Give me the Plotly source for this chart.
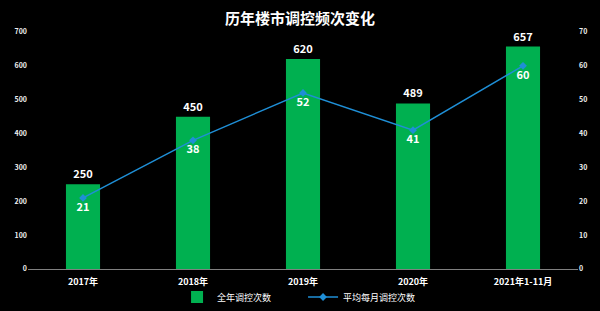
import plotly.graph_objects as go

categories = ["2017年", "2018年", "2019年", "2020年", "2021年1-11月"]
annual_counts = [250, 450, 620, 489, 657]
monthly_avg = [21, 38, 52, 41, 60]

FONT = "Noto Sans CJK SC"

fig = go.Figure()
fig.add_trace(go.Bar(
    x=categories, y=annual_counts, name="全年调控次数",
    marker=dict(color="#00B050", line=dict(width=0)),
    width=0.31,
    text=[f"<b>{v}</b>" for v in annual_counts], textposition="outside",
    textfont=dict(color="white", size=11, family=FONT),
    cliponaxis=False,
))
fig.add_trace(go.Scatter(
    x=categories, y=monthly_avg, name="平均每月调控次数", yaxis="y2",
    mode="lines+markers+text",
    line=dict(color="#1F8FD6", width=1.5),
    marker=dict(color="#1F8FD6", size=6, symbol="diamond"),
    text=[f"<b>{v}</b>" for v in monthly_avg], textposition="bottom center",
    textfont=dict(color="white", size=11, family=FONT),
))

fig.update_layout(
    width=600, height=311,
    paper_bgcolor="black", plot_bgcolor="black",
    margin=dict(l=28, r=22, t=32, b=42, autoexpand=False),
    font=dict(family=FONT, color="white"),
    title=dict(text="<b>历年楼市调控频次变化</b>", x=0.5, xanchor="center",
               y=0.94, yanchor="middle", font=dict(size=15, color="white", family=FONT)),
    bargap=0.69,
    showlegend=True,
    legend=dict(orientation="h", x=0.271, xanchor="left", yref="container", y=0.045, yanchor="middle",
                font=dict(size=9, color="white", family=FONT), bgcolor="rgba(0,0,0,0)",
                entrywidth=81, entrywidthmode="pixels"),
    xaxis=dict(showgrid=False, showline=True, linecolor="#808080", linewidth=1,
               tickfont=dict(size=9, color="white", family=FONT, weight="bold"), ticks="",
               ticklabelstandoff=4),
    yaxis=dict(range=[0, 700], dtick=100, showgrid=False, zeroline=False,
               tickfont=dict(size=7, color="#f0f0f0", family=FONT, weight="bold"), ticks=""),
    yaxis2=dict(range=[0, 70], dtick=10, overlaying="y", side="right", showgrid=False,
                zeroline=False, tickfont=dict(size=7, color="#f0f0f0", family=FONT, weight="bold"), ticks=""),
)

fig.write_html("out.html")
